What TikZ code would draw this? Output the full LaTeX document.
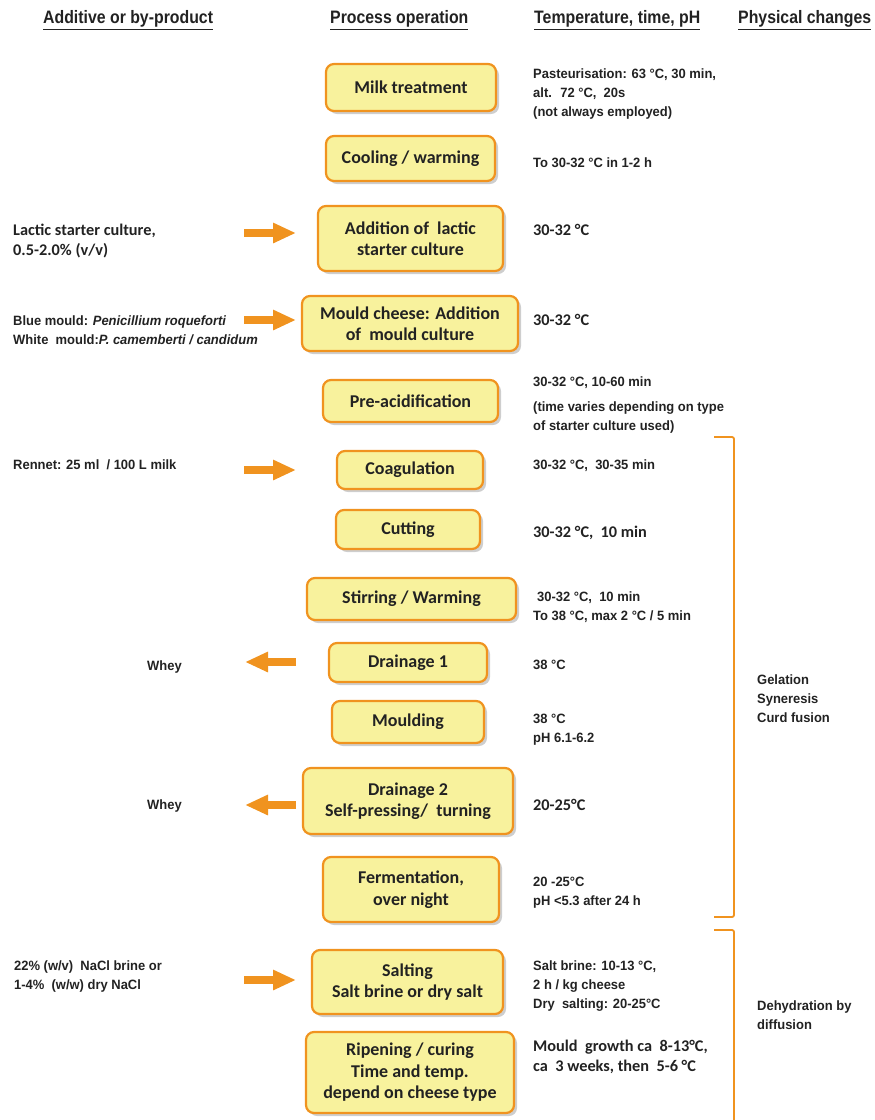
\documentclass[tikz,border=0pt]{standalone}
\usepackage{fontspec}
\setmainfont{Carlito}
\newfontfamily\narrowfont[FakeStretch=0.96]{Liberation Sans}
\newfontfamily\headfont[FakeStretch=0.88]{Liberation Sans}
\usetikzlibrary{positioning,shadows,arrows.meta}
\definecolor{boxline}{HTML}{F0931F}
\definecolor{boxfill}{HTML}{F8F29D}
\definecolor{txt}{HTML}{222222}
\newcommand\boxtxt{\fontsize{18}{21.5}\selectfont\bfseries}
\newcommand\sidetxt{\narrowfont\fontsize{13.5}{19}\selectfont\bfseries}
\newcommand\calitxt{\fontsize{16.3}{20}\selectfont\bfseries}
\newcommand\headtxt{\headfont\fontsize{18}{20}\selectfont\bfseries}

\begin{document}
\begin{tikzpicture}[x=1pt,y=-1pt,
stepbox/.style={
    draw=boxline,
    fill=boxfill,
    line width=2.2pt,
    rounded corners=8pt,
    align=center,
    text=txt,
    font=\boxtxt,
    drop shadow={shadow xshift=3pt,shadow yshift=-3pt,opacity=.35,fill=black!55}
},
side/.style={anchor=west,align=left,inner sep=0pt,text=txt,font=\sidetxt},
cali/.style={side,font=\calitxt},
head/.style={anchor=west,inner sep=0pt,text=txt,font=\headtxt},
feed/.style={draw=boxline,line width=8pt,-{Triangle[length=23pt,width=19pt]}},
brace/.style={draw=boxline,line width=1.8pt,rounded corners=2pt}
]
\useasboundingbox (0,0) rectangle (875,1120);

% column headings
\node[head] (hAdd) at (43,20) {\underline{Additive or by-product}};
\node[head] (hProc) at (330,20) {\underline{Process operation}};
\node[head] (hTemp) at (534,20) {\underline{Temperature, time, pH}};
\node[head] (hPhys) at (738,20) {\underline{Physical changes}};

% process steps
\node[stepbox,minimum width=170pt,minimum height=47pt] (milk) at (411,87.5) {Milk treatment};
\node[stepbox,minimum width=169pt,minimum height=45pt] (cool) at (410.5,158.5) {Cooling / warming};
\node[stepbox,minimum width=185pt,minimum height=65pt] (lactic) at (410.5,238.5) {Addition of~ lactic\\starter culture};
\node[stepbox,minimum width=216pt,minimum height=55pt] (mould) at (410,323.5) {Mould cheese: Addition\\of~ mould culture};
\node[stepbox,minimum width=175pt,minimum height=42pt] (preacid) at (410.5,401) {Pre-acidification};
\node[stepbox,minimum width=146pt,minimum height=38pt] (coag) at (410,470) {Coagulation};
\node[stepbox,minimum width=144pt,minimum height=39pt] (cut) at (408,529.5) {Cutting};
\node[stepbox,minimum width=209pt,minimum height=42pt] (stir) at (411.5,599) {Stirring / Warming};
\node[stepbox,minimum width=158pt,minimum height=39pt] (drainA) at (408,662.5) {Drainage 1};
\node[stepbox,minimum width=152pt,minimum height=42pt] (moulding) at (408,722) {Moulding};
\node[stepbox,minimum width=210pt,minimum height=66pt] (drainB) at (408,801) {Drainage 2\\Self-pressing/~ turning};
\node[stepbox,minimum width=176pt,minimum height=65pt] (ferm) at (411,889.5) {Fermentation,\\over night};
\node[stepbox,minimum width=191pt,minimum height=64pt] (salt) at (407.5,982) {Salting\\Salt brine or dry salt};
\node[stepbox,minimum width=208pt,minimum height=81pt] (ripen) at (410,1072.5) {Ripening / curing\\Time and temp.\\depend on cheese type};

% additives and by-products
\node[cali] (addLactic) at (13,241) {Lactic starter culture,\\ 0.5-2.0\% (v/v)};
\node[side] (addMould) at (13,330) {Blue mould: \textit{Penicillium roqueforti}\\White~ mould:\textit{P. camemberti / candidum}};
\node[side] (addRennet) at (13,465) {Rennet: 25 ml~ / 100 L milk};
\node[side] (wheyA) at (147,667) {Whey};
\node[side] (wheyB) at (147,806) {Whey};
\node[side] (addSalt) at (14,976) {22\% (w/v)~ NaCl brine or\\1-4\%~ (w/w) dry NaCl};

\foreach \nm/\ya in {inLactic/233,inMould/320,inRennet/470,inSalt/980}{
    \coordinate (\nm-s) at (244,\ya);
    \coordinate (\nm-e) at (296,\ya);
    \draw[feed] (\nm-s) -- (\nm-e);
}
\foreach \nm/\ya in {outA/662,outB/805}{
    \coordinate (\nm-s) at (296,\ya);
    \coordinate (\nm-e) at (245,\ya);
    \draw[feed] (\nm-s) -- (\nm-e);
}

% temperature, time, pH
\node[side] (tMilk) at (533,94) {Pasteurisation: 63 °C, 30 min,\\alt.~ 72 °C,~ 20s\\(not always employed)};
\node[side] (tCool) at (533,163) {To 30-32 °C in 1-2 h};
\node[cali] (tLactic) at (533,230) {30-32 °C};
\node[cali] (tMould) at (533,320) {30-32 °C};
\node[side] (tPreA) at (533,383) {30-32 °C, 10-60 min};
\node[side] (tPreB) at (533,417.5) {(time varies depending on type\\of starter culture used)};
\node[side] (tCoag) at (533,466) {30-32 °C,~ 30-35 min};
\node[cali] (tCut) at (533,533) {30-32 °C,~ 10 min};
\node[side] (tStir) at (533,607) {\hspace{4pt}30-32 °C,~ 10 min\\To 38 °C, max 2 °C / 5 min};
\node[side] (tDrainA) at (533,665) {38 °C};
\node[side] (tMoulding) at (533,730) {38 °C\\pH 6.1-6.2};
\node[cali] (tDrainB) at (533,805) {20-25°C};
\node[side] (tFerm) at (533,893) {20 -25°C\\pH <5.3 after 24 h};
\node[side] (tSalt) at (533,986) {Salt brine: 10-13 °C,\\2 h / kg cheese\\Dry~ salting: 20-25°C};
\node[cali] (tRipen) at (533,1057) {Mould~ growth ca~ 8-13°C,\\ca~ 3 weeks, then~ 5-6 °C};

% physical changes
\coordinate (brA-t) at (714,437);
\coordinate (brA-b) at (714,917);
\coordinate (brB-t) at (714,930);
\draw[brace] (brA-t) -- (734,437) -- (734,917) -- (brA-b);
\draw[brace] (brB-t) -- (734,930) -- (734,1125);
\node[side] (pGel) at (757,699) {Gelation\\Syneresis\\Curd fusion};
\node[side] (pDehyd) at (757,1015.5) {Dehydration by\\diffusion};
\end{tikzpicture}
\end{document}
